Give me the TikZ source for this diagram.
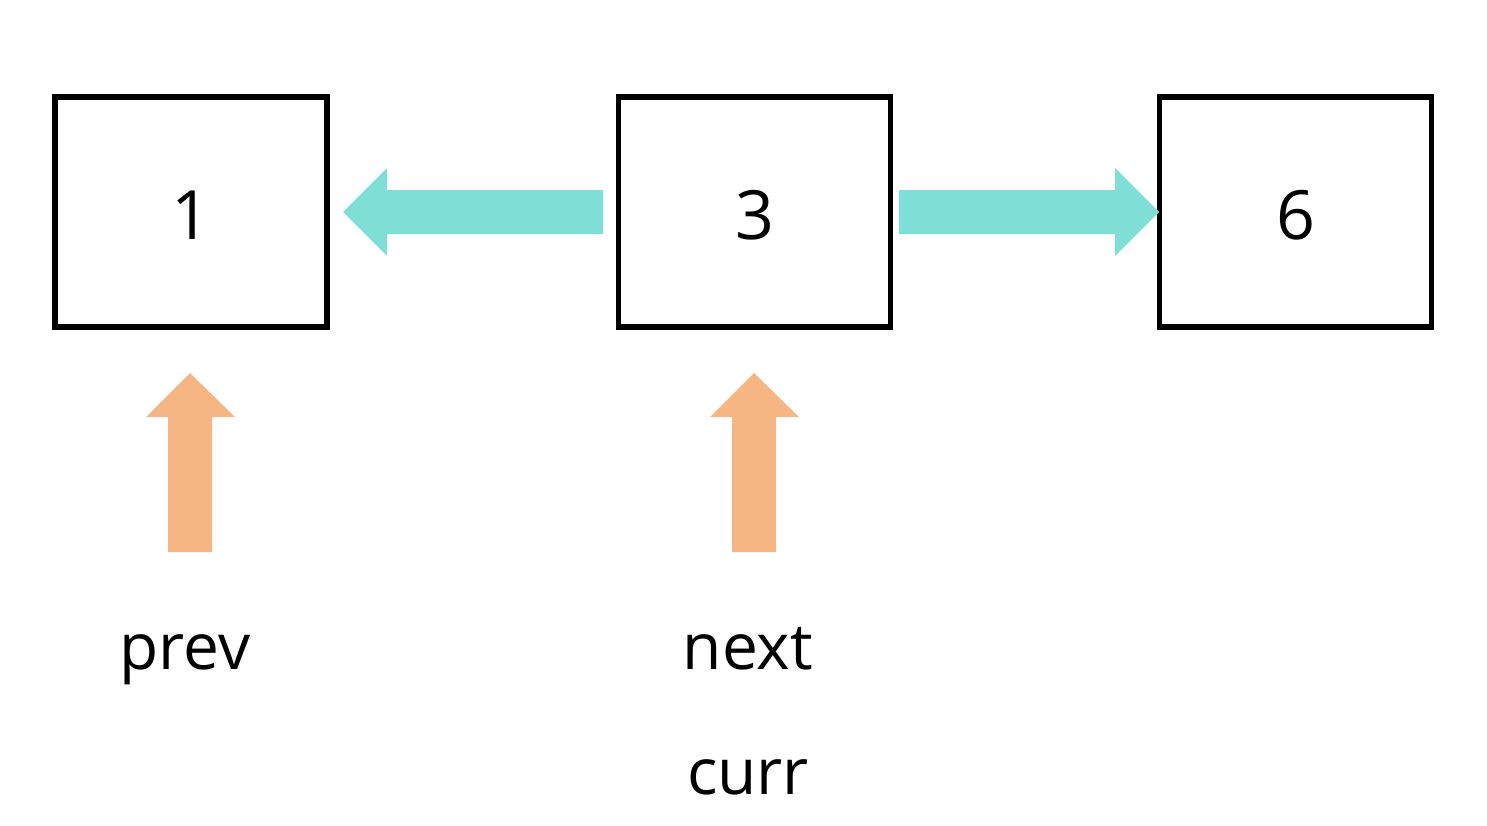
\documentclass[tikz,border=0pt]{standalone}
\usepackage{fontspec}
\setmainfont{Open Sans}
\definecolor{cyanarrow}{RGB}{127,222,214}
\definecolor{orangearrow}{RGB}{245,182,131}
\begin{document}
\begin{tikzpicture}[x=1pt,y=-1pt,
  nodebox/.style={draw=black,line width=5.5pt,minimum width=272pt,minimum height=230pt,inner sep=0pt},
  digit/.style={font=\fontsize{68}{80}\selectfont,inner sep=0pt},
  label/.style={font=\fontsize{64}{77}\selectfont,inner sep=0pt,anchor=base},
  harrow/.style={fill=cyanarrow,draw=none},
  varrow/.style={fill=orangearrow,draw=none}]
\useasboundingbox (0,0) rectangle (1487,825);
\node[nodebox] (n1) at (191,212) {};
\node[nodebox] (n3) at (754.5,212) {};
\node[nodebox] (n6) at (1295.5,212) {};
\node[digit] (t1) at ([yshift=-3pt]n1.center) {1};
\node[digit] (t3) at ([yshift=-3pt]n3.center) {3};
\node[digit] (t6) at ([yshift=-3pt]n6.center) {6};
% cyan arrows
\fill[harrow] (603,190) -- (387,190) -- (387,168) -- (343,212) -- (387,256) -- (387,234) -- (603,234) -- cycle;
\fill[harrow] (899,190) -- (1115,190) -- (1115,168) -- (1159,212) -- (1115,256) -- (1115,234) -- (899,234) -- cycle;
% orange arrows
\fill[varrow] (168,552) -- (168,417) -- (146,417) -- (190,373) -- (235,417) -- (212,417) -- (212,552) -- cycle;
\fill[varrow] (732,552) -- (732,417) -- (710,417) -- (754,373) -- (799,417) -- (776,417) -- (776,552) -- cycle;
\node[label] (prev) at (185,669) {prev};
\node[label] (next) at (748,669) {next};
\node[label] (curr) at (748,794) {curr};
\end{tikzpicture}
\end{document}
